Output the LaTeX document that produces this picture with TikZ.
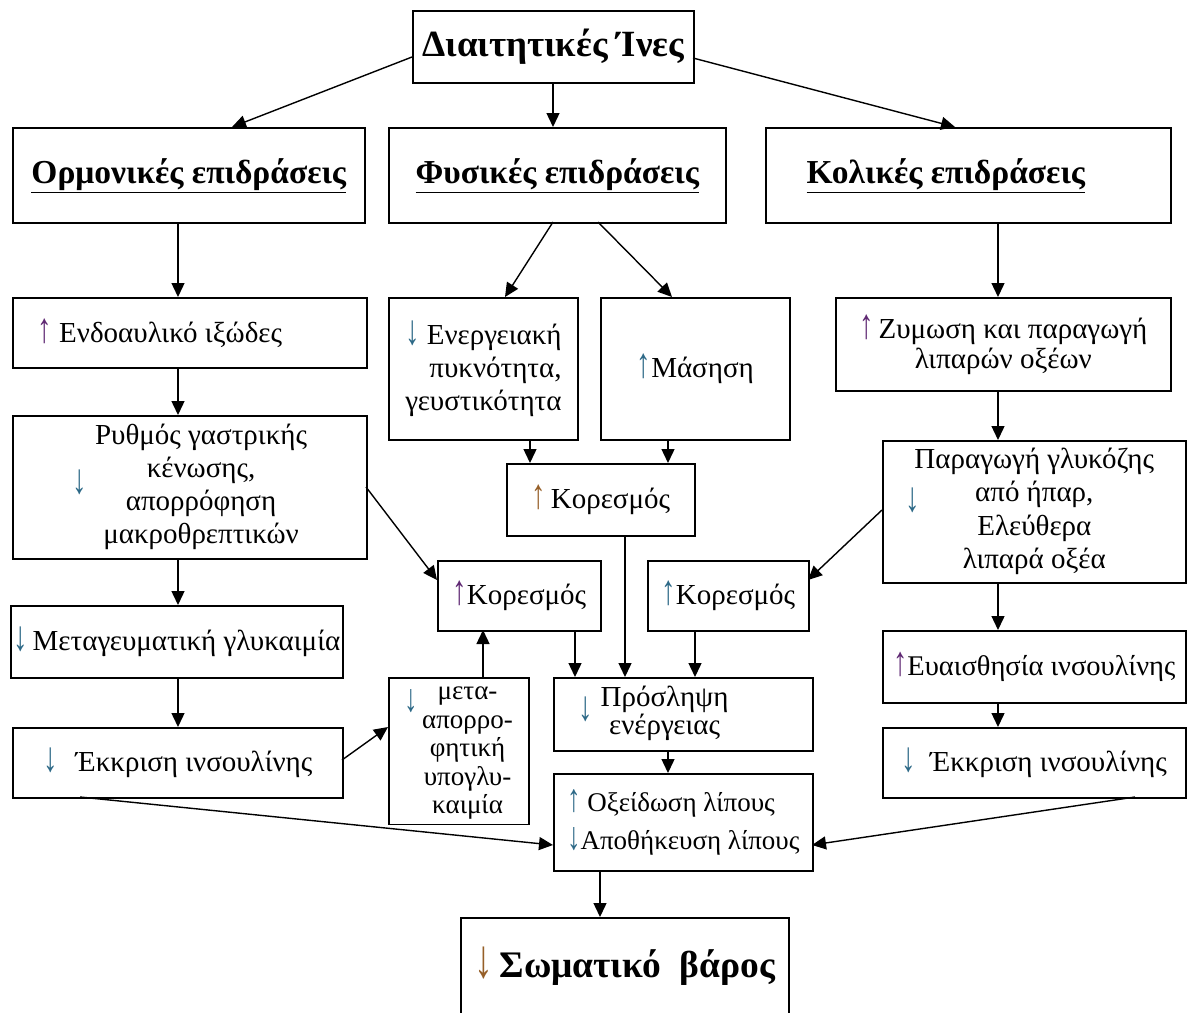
\documentclass[tikz,border=0pt]{standalone}
\usepackage{fontspec}
\setmainfont{Liberation Serif}
\usetikzlibrary{arrows.meta,calc}
\definecolor{upc}{RGB}{95,40,115}
\definecolor{dnc}{RGB}{45,105,135}
\definecolor{orc}{RGB}{150,95,40}
\newcommand\tallarr[2]{\textcolor{#1}{\scalebox{1}[1.45]{#2}}}
\newcommand\myup{\tallarr{upc}{↑}}
\newcommand\myupb{\tallarr{dnc}{↑}}
\newcommand\myupo{\tallarr{orc}{↑}}
\newcommand\mydn{\tallarr{dnc}{↓}}
\begin{document}
\begin{tikzpicture}[x=1pt,y=-1pt,
  box/.style={draw, line width=1.6pt, inner sep=2pt, anchor=north west, align=center,
    font=\fontsize{29}{33}\selectfont},
  head/.style={font=\bfseries\fontsize{33.5}{36}\selectfont},
  conn/.style={line width=1.4pt, -{Triangle[length=14pt,width=13pt]}}]
\clip (0,0) rectangle (1190,1012);
\fill[white] (0,0) rectangle (1190,1012);

% top row
\node[box, minimum width=281pt, minimum height=72pt, font=\bfseries\fontsize{37}{40}\selectfont] (top) at (412,10) {Διαιτητικές Ίνες};
\node[box, head, minimum width=352pt, minimum height=95pt] (orm) at (12,127) {\underline{Ορμονικές επιδράσεις}};
\node[box, head, minimum width=337pt, minimum height=95pt] (fys) at (388,127) {\underline{Φυσικές επιδράσεις}};
\node[box, head, minimum width=405pt, minimum height=95pt] (kol) at (765,127) {\underline{Κολικές επιδράσεις}\hspace*{45pt}};

% left column
\node[box, minimum width=354pt, minimum height=70pt] (end) at (12,297) {\myup\ Ενδοαυλικό ιξώδες\hspace*{60pt}};
\node[box, minimum width=354pt, minimum height=143pt] (ryth) at (12,415) {\mydn\hspace{8pt}\begin{tabular}{@{}c@{}}Ρυθμός γαστρικής\\κένωσης,\\απορρόφηση\\μακροθρεπτικών\end{tabular}};
\node[box, minimum width=332pt, minimum height=72pt] (metag) at (10,605) {\mydn\,Μεταγευματική γλυκαιμία};
\node[box, minimum width=330pt, minimum height=70pt] (ekL) at (12,727) {\mydn\hspace{18pt}Έκκριση ινσουλίνης};
\node[box, minimum width=140pt, minimum height=146pt, font=\fontsize{27}{28.5}\selectfont] (meta) at (388,677) {\raisebox{-12pt}{\mydn}\hspace{4pt}\begin{tabular}[t]{@{}c@{}}μετα-\\απορρο-\\φητική\\υπογλυ-\\καιμία\end{tabular}};

% middle column
\node[box, minimum width=189pt, minimum height=142pt, align=right] (ener) at (388,297) {\mydn\ Ενεργειακή\\πυκνότητα,\\γευστικότητα};
\node[box, minimum width=189pt, minimum height=142pt] (mas) at (600,297) {\myupb Μάσηση};
\node[box, minimum width=188pt, minimum height=72pt] (korM) at (506,463) {\myupo\,Κορεσμός};
\node[box, minimum width=163pt, minimum height=70pt] (korL) at (437,560) {\myup Κορεσμός};
\node[box, minimum width=161pt, minimum height=70pt] (korR) at (647,560) {\myupb Κορεσμός};
\node[box, minimum width=259pt, minimum height=73pt, font=\fontsize{29}{27}\selectfont] (pros) at (553,677) {\mydn\hspace{8pt}\begin{tabular}{@{}c@{}}Πρόσληψη\\ενέργειας\end{tabular}\hspace*{60pt}};
\node[box, minimum width=259pt, minimum height=97pt, align=left, font=\fontsize{27}{28}\selectfont] (oxe) at (553,773) {\myupb\ Οξείδωση λίπους\\[10pt]\mydn Αποθήκευση λίπους};
\node[box, minimum width=328pt, minimum height=100pt, font=\bfseries\fontsize{37.5}{40}\selectfont] (som) at (460,917) {\raisebox{12pt}{\tallarr{orc}{↓}\,Σωματικό\ \ βάρος}};

% right column
\node[box, minimum width=335pt, minimum height=93pt, font=\fontsize{29}{30}\selectfont] (zym) at (835,297) {\myup\,Ζυμωση και παραγωγή\\λιπαρών οξέων};
\node[box, minimum width=303pt, minimum height=142pt] (parag) at (882,440) {\begin{tabular}{@{}c@{}}Παραγωγή γλυκόζης\\\llap{\raisebox{-10pt}{\mydn}\hspace{55pt}}από ήπαρ,\\Ελεύθερα\\λιπαρά οξέα\end{tabular}};
\node[box, minimum width=303pt, minimum height=72pt, font=\fontsize{28.5}{30}\selectfont] (evai) at (882,630) {\myup Ευαισθησία ινσουλίνης};
\node[box, minimum width=303pt, minimum height=70pt] (ekR) at (882,727) {\mydn\hspace{14pt}Έκκριση ινσουλίνης};

% connectors
\draw[conn] ($(top.north west)+(0,47)$) -- ($(orm.north west)+(220,0)$);
\draw[conn] ($(top.north west)+(141,72)$) -- ($(fys.north west)+(165,0)$);
\draw[conn] ($(top.north west)+(281,48)$) -- ($(kol.north west)+(190,0)$);

\draw[conn] ($(orm.north west)+(166,95)$) -- ($(end.north west)+(166,0)$);
\draw[conn] ($(end.north west)+(166,70)$) -- ($(ryth.north west)+(166,0)$);
\draw[conn] ($(ryth.north west)+(166,143)$) -- ($(metag.north west)+(168,0)$);
\draw[conn] ($(metag.north west)+(168,72)$) -- ($(ekL.north west)+(166,0)$);

\draw[conn] ($(fys.north west)+(165,95)$) -- ($(ener.north west)+(117,0)$);
\draw[conn] ($(fys.north west)+(210,95)$) -- ($(mas.north west)+(72,0)$);
\draw[conn] ($(ener.north west)+(142,142)$) -- ($(korM.north west)+(24,0)$);
\draw[conn] ($(mas.north west)+(68,142)$) -- ($(korM.north west)+(162,0)$);

\draw[conn] ($(kol.north west)+(233,95)$) -- ($(zym.north west)+(163,0)$);
\draw[conn] ($(zym.north west)+(163,93)$) -- ($(parag.north west)+(116,0)$);
\draw[conn] ($(parag.north west)+(116,142)$) -- ($(evai.north west)+(116,0)$);
\draw[conn] ($(evai.north west)+(116,72)$) -- ($(ekR.north west)+(116,0)$);

\draw[conn] ($(ryth.north west)+(354,72)$) -- ($(korL.north west)+(0,20)$);
\draw[conn] ($(parag.north west)+(0,70)$) -- ($(korR.north west)+(161,20)$);
\draw[conn] ($(meta.north west)+(95,0)$) -- ($(korL.north west)+(46,70)$);
\draw[conn] ($(ekL.north west)+(330,33)$) -- ($(meta.north west)+(0,50)$);

\draw[conn] ($(korL.north west)+(138,70)$) -- ($(pros.north west)+(22,0)$);
\draw[conn] ($(korM.north west)+(119,72)$) -- ($(pros.north west)+(72,0)$);
\draw[conn] ($(korR.north west)+(48,70)$) -- ($(pros.north west)+(142,0)$);
\draw[conn] ($(pros.north west)+(115,73)$) -- ($(oxe.north west)+(115,0)$);

\draw[conn] ($(ekL.north west)+(68,70)$) -- ($(oxe.north west)+(0,72)$);
\draw[conn] ($(ekR.north west)+(253,70)$) -- ($(oxe.north west)+(259,72)$);
\draw[conn] ($(oxe.north west)+(47,97)$) -- ($(som.north west)+(140,0)$);
\end{tikzpicture}
\end{document}
